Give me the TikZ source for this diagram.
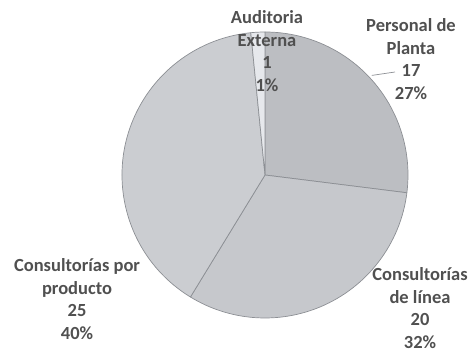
\documentclass[tikz,border=0pt]{standalone}
\usepackage{fontspec}
\setmainfont{Carlito}
\usetikzlibrary{calc}
\definecolor{pdpfill}{RGB}{188,190,194}
\definecolor{cdlfill}{RGB}{198,200,204}
\definecolor{cppfill}{RGB}{203,205,209}
\definecolor{audfill}{RGB}{230,232,236}
\definecolor{edgegray}{RGB}{140,143,148}
\definecolor{textgray}{RGB}{80,80,80}
\tikzset{
  slice/.style={draw=edgegray, line width=0.7pt, line join=round},
  lbl/.style={align=center, text=textgray, inner sep=0pt,
    font=\bfseries\fontsize{18.5}{22.5}\selectfont},
  leader/.style={draw=edgegray, line width=0.7pt}
}
\begin{document}
\begin{tikzpicture}[x=1pt,y=1pt]
\useasboundingbox (0,0) rectangle (476,355);
\coordinate (c) at (265,180);
\def\R{143}
% slices (clockwise from 12 o'clock)
\filldraw[slice, fill=pdpfill] (c) -- ($(c)+(90:\R)$) arc[start angle=90, end angle=-7.14, radius=\R] -- cycle;
\filldraw[slice, fill=cdlfill] (c) -- ($(c)+(-7.14:\R)$) arc[start angle=-7.14, end angle=-121.43, radius=\R] -- cycle;
\filldraw[slice, fill=cppfill] (c) -- ($(c)+(-121.43:\R)$) arc[start angle=-121.43, end angle=-264.29, radius=\R] -- cycle;
\filldraw[slice, fill=audfill] (c) -- ($(c)+(95.71:\R)$) arc[start angle=95.71, end angle=90, radius=\R] -- cycle;
% labels
\node[lbl] (aud) at (267,304) {Auditoria\\Externa\\1\\1\%};
\node[lbl] (pdp) at (411,296) {Personal de\\Planta\\17\\27\%};
\node[lbl] (cpp) at (77,56) {Consultorías por\\producto\\25\\40\%};
\node[lbl] (cdl) at (420,47) {Consultorías\\de línea\\20\\32\%};
% leader line
\coordinate (pdpedge) at ($(c)+(43:146)$);
\coordinate (pdpend) at (395,283);
\draw[leader] (pdpedge) -- (pdpend);
\end{tikzpicture}
\end{document}
